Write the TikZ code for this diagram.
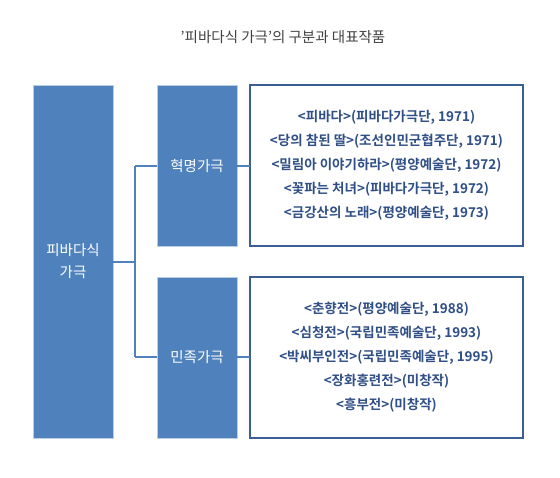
\documentclass[tikz,border=0pt]{standalone}
\usepackage{fontspec}
\setmainfont{Noto Sans CJK KR}
\newfontfamily\krbold{Noto Sans CJK KR Bold}
\definecolor{boxblue}{HTML}{4F81BD}
\definecolor{txtblue}{HTML}{2F4F86}
\definecolor{edgeblue}{HTML}{3A5F94}
\begin{document}
\begin{tikzpicture}[x=1pt,y=-1pt,
  bluebox/.style={fill=boxblue,draw=boxblue!40!white,line width=0.8pt},
  listbox/.style={draw=edgeblue,line width=1.8pt,fill=white},
  conn/.style={draw=boxblue,line width=1.3pt},
  boxtext/.style={text=white,font=\fontsize{14.5}{22.5}\selectfont,align=center},
  listtext/.style={text=txtblue,font=\krbold\fontsize{13.5}{24}\selectfont,align=center}]
\useasboundingbox (0,0) rectangle (560,478);
\node[text=black!75,font=\fontsize{14.5}{16}\selectfont] (title) at (283,37) {'피바다식 가극'의 구분과 대표작품};
\path[bluebox] (33,85) rectangle (113,438);
\node[boxtext] (root) at (73,261) {피바다식\\가극};
\path[bluebox] (157,85) rectangle (237,246);
\node[boxtext] (rev) at (197,166) {혁명가극};
\path[bluebox] (157,277) rectangle (237,438);
\node[boxtext] (nat) at (197,357) {민족가극};
\path[listbox] (250,85) rectangle (523,246);
\path[listbox] (250,277) rectangle (523,438);
\node[listtext] (revlist) at (386.5,165) {<피바다>(피바다가극단, 1971)\\<당의 참된 딸>(조선인민군협주단, 1971)\\<밀림아 이야기하라>(평양예술단, 1972)\\<꽃파는 처녀>(피바다가극단, 1972)\\<금강산의 노래>(평양예술단, 1973)};
\node[listtext] (natlist) at (386.5,357) {<춘향전>(평양예술단, 1988)\\<심청전>(국립민족예술단, 1993)\\<박씨부인전>(국립민족예술단, 1995)\\<장화홍련전>(미창작)\\<흥부전>(미창작)};
\coordinate (rootE) at (113,262);
\coordinate (fork) at (135,262);
\draw[conn] (rootE) -- (fork);
\draw[conn] (135,166) -- (135,357);
\draw[conn] (135,166) -- (157,166);
\draw[conn] (135,357) -- (157,357);
\draw[conn] (237,166) -- (250,166);
\draw[conn] (237,357) -- (250,357);
\end{tikzpicture}
\end{document}
